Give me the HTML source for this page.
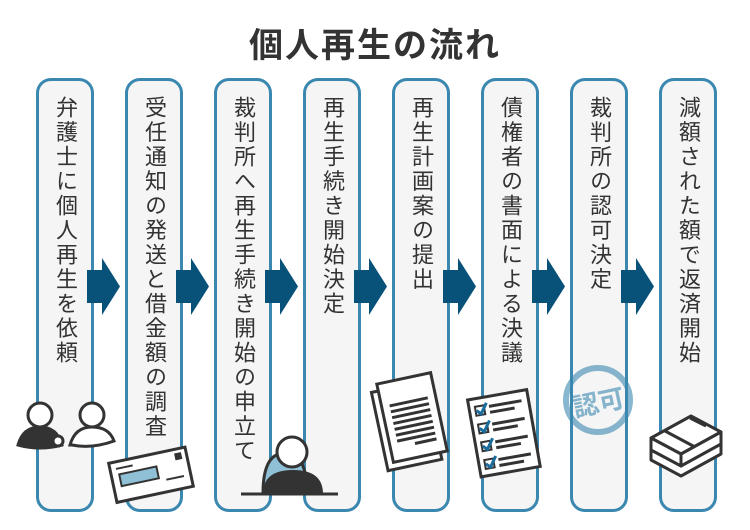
<!DOCTYPE html>
<html><head><meta charset="utf-8"><style>
body{margin:0;width:750px;height:530px;background:#fff;position:relative;overflow:hidden;font-family:"Liberation Sans","Noto Sans CJK JP",sans-serif}
.t{position:absolute;left:0;width:750px;top:18px;text-align:center;font-size:34px;font-weight:bold;color:#333;letter-spacing:2px}
.c{position:absolute;top:78px;width:52px;height:428px;border:3px solid #3a87b0;border-radius:15px;background:#f5f5f5}
.v{position:absolute;top:96px;width:57px;writing-mode:vertical-rl;font-size:22px;line-height:57px;letter-spacing:2.5px;color:#333}
.a{position:absolute;top:258px}
svg.i{position:absolute;left:0;top:0}
</style></head><body>
<div class="t">個人再生の流れ</div>
<div class="c" style="left:36px"></div>
<div class="c" style="left:125px"></div>
<div class="c" style="left:214px"></div>
<div class="c" style="left:303px"></div>
<div class="c" style="left:392px"></div>
<div class="c" style="left:481px"></div>
<div class="c" style="left:570px"></div>
<div class="c" style="left:659px"></div>
<div class="v" style="left:37px">弁護士に個人再生を依頼</div>
<div class="v" style="left:126px">受任通知の発送と借金額の調査</div>
<div class="v" style="left:215px">裁判所へ再生手続き開始の申立て</div>
<div class="v" style="left:304px">再生手続き開始決定</div>
<div class="v" style="left:393px">再生計画案の提出</div>
<div class="v" style="left:482px">債権者の書面による決議</div>
<div class="v" style="left:571px">裁判所の認可決定</div>
<div class="v" style="left:660px">減額された額で返済開始</div>
<svg class="i" width="750" height="530">
<g fill="#08527a">
<path d="M87 270h15v-12l18 28.5-18 28.5v-12h-15z"/>
<path transform="translate(89 0)" d="M87 270h15v-12l18 28.5-18 28.5v-12h-15z"/>
<path transform="translate(178 0)" d="M87 270h15v-12l18 28.5-18 28.5v-12h-15z"/>
<path transform="translate(267 0)" d="M87 270h15v-12l18 28.5-18 28.5v-12h-15z"/>
<path transform="translate(356 0)" d="M87 270h15v-12l18 28.5-18 28.5v-12h-15z"/>
<path transform="translate(445 0)" d="M87 270h15v-12l18 28.5-18 28.5v-12h-15z"/>
<path transform="translate(534 0)" d="M87 270h15v-12l18 28.5-18 28.5v-12h-15z"/>
</g>
<!-- people -->
<g stroke="#333" stroke-width="3">
<path d="M18 445q5-18 22-18t22 18q-22 6-44 0z" fill="#333"/>
<circle cx="40" cy="415" r="12" fill="#fff"/>
<circle cx="58" cy="441" r="5" fill="#fff"/>
<path d="M70 445q5-18 22-18t22 14q-22 8-42 4z" fill="#fff"/>
<circle cx="92" cy="415" r="12" fill="#fff"/>
</g>
<!-- envelope -->
<g transform="rotate(-12 150 475)">
<rect x="112" y="455" width="78" height="40" fill="#fff" stroke="#333" stroke-width="3"/>
<rect x="120" y="468" width="38" height="12" fill="#8fc0d6" stroke="#333" stroke-width="2"/>
<rect x="178" y="459" width="7" height="7" fill="#333"/>
<line x1="118" y1="462" x2="135" y2="462" stroke="#333" stroke-width="2"/>
<line x1="165" y1="483" x2="183" y2="483" stroke="#333" stroke-width="2"/>
</g>
<!-- judge -->
<path d="M263 493q0-40 22-40t22 40z" fill="#8fc0d6" stroke="#333" stroke-width="3"/>
<path d="M263 494q0-24 30-24t30 24z" fill="#333"/>
<circle cx="292" cy="452" r="15" fill="#fff" stroke="#333" stroke-width="3"/>
<line x1="241" y1="494" x2="338" y2="494" stroke="#333" stroke-width="3"/>
<!-- documents -->
<g transform="rotate(-12 410 420)" stroke="#333" stroke-width="3" fill="#fff">
<rect x="378" y="385" width="55" height="80"/>
<rect x="385" y="378" width="55" height="80"/>
<g stroke-width="3"><line x1="393" y1="402" x2="432" y2="402"/><line x1="393" y1="408" x2="432" y2="408"/><line x1="393" y1="414" x2="432" y2="414"/><line x1="393" y1="420" x2="432" y2="420"/><line x1="393" y1="426" x2="432" y2="426"/><line x1="393" y1="432" x2="432" y2="432"/><line x1="393" y1="438" x2="432" y2="438"/><line x1="410" y1="444" x2="432" y2="444"/></g>
</g>
<!-- checklist -->
<g transform="rotate(-10 500 440)">
<rect x="475" y="395" width="60" height="78" fill="#fff" stroke="#333" stroke-width="3"/>
<g stroke="#333" stroke-width="3"><line x1="495" y1="405" x2="528" y2="405"/><line x1="495" y1="411" x2="520" y2="411"/><line x1="495" y1="423" x2="528" y2="423"/><line x1="495" y1="429" x2="520" y2="429"/><line x1="495" y1="441" x2="528" y2="441"/><line x1="495" y1="447" x2="520" y2="447"/><line x1="495" y1="459" x2="528" y2="459"/><line x1="495" y1="465" x2="520" y2="465"/></g>
<g fill="#fff" stroke="#333" stroke-width="2"><rect x="481" y="403" width="9" height="9"/><rect x="481" y="421" width="9" height="9"/><rect x="481" y="439" width="9" height="9"/><rect x="481" y="457" width="9" height="9"/></g>
<g fill="none" stroke="#1a6c9c" stroke-width="3"><path d="M482 407l4 4 7-10"/><path d="M482 425l4 4 7-10"/><path d="M482 443l4 4 7-10"/><path d="M482 461l4 4 7-10"/></g>
</g>
<!-- stamp -->
<circle cx="598" cy="400" r="32" fill="none" stroke="#3a87b0" stroke-opacity="0.6" stroke-width="6"/>
<text x="598" y="412" text-anchor="middle" font-size="26" font-weight="bold" fill="#3a87b0" fill-opacity="0.6" transform="rotate(-12 598 400)" font-family="Liberation Sans, Noto Sans CJK JP, sans-serif">認可</text>
<!-- money -->
<g stroke="#333" stroke-width="3" stroke-linejoin="round">
<path d="M651 448l30 16 40-22-0 12-40 22-30-16z" fill="#fff"/>
<path d="M651 438l30 16 40-22-30-16z" fill="#fff"/>
<path d="M651 438v12l30 16v-12z" fill="#fff"/>
<path d="M681 454v12l40-22v-12z" fill="#fff"/>
<line x1="665" y1="431" x2="695" y2="447"/><line x1="690" y1="418" x2="706" y2="426"/>
</g>
</svg>
</body></html>
